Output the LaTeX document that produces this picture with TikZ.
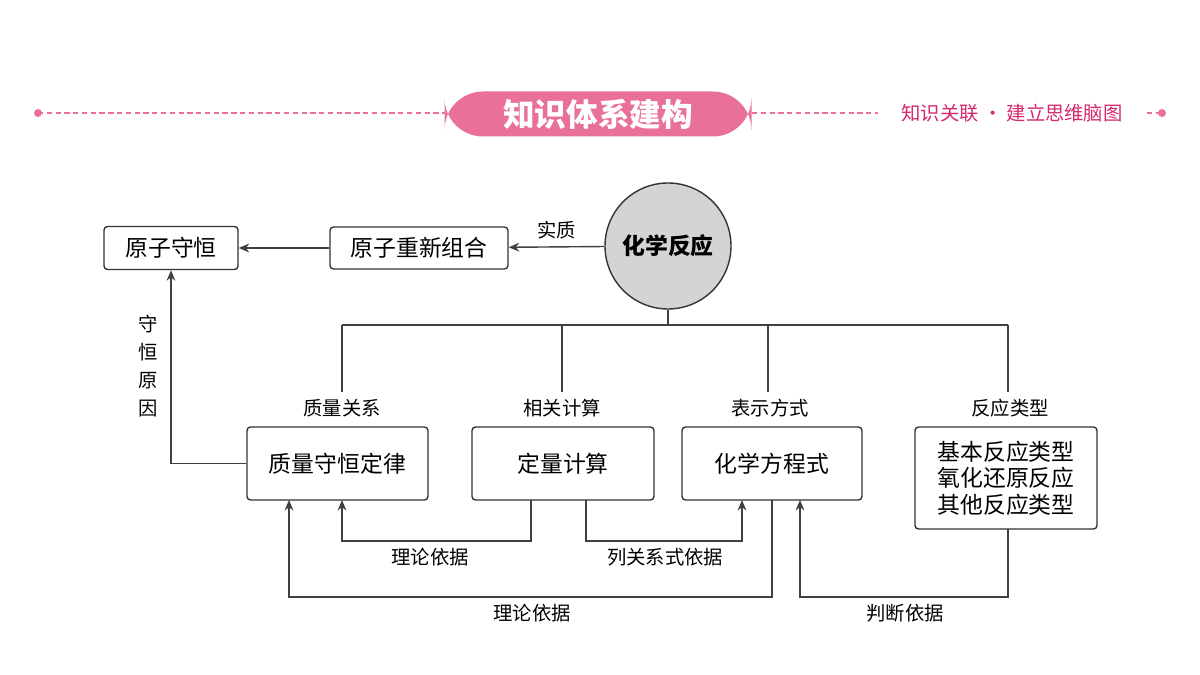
\documentclass[tikz,border=0pt]{standalone}
\usepackage{fontspec}
\setmainfont{Noto Sans CJK SC}
\usetikzlibrary{arrows.meta}
\definecolor{pk}{HTML}{E8709A}
\definecolor{pkt}{HTML}{D4286E}
\begin{document}
\begin{tikzpicture}[x=0.02cm,y=-0.02cm,
 box/.style={draw=black!80,rounded corners=2pt,thick,font=\fontsize{13}{15}\selectfont,align=center,inner sep=0pt},
 lab/.style={font=\fontsize{11}{13}\selectfont},
 arr/.style={draw=black!75,thick,-{Stealth[length=6pt,width=5pt]}},
 ln/.style={draw=black!75,thick}]
\useasboundingbox (0,0) rectangle (1200,675);
% header
\draw[pk,densely dashed,thick] (38,113) -- (445,113);
\draw[pk,densely dashed,thick] (752,113) -- (878,113);
\draw[pk,densely dashed,thick] (1147,113) -- (1162,113);
\fill[pk] (38,113) circle (4);
\fill[pk] (1162,113) circle (4);
\node[fill=pk,rounded corners=22pt,minimum width=307*0.02cm,minimum height=45*0.02cm,text=white,font=\fontsize{18}{20}\selectfont\bfseries] (hdr) at (598,114) {知识体系建构};
\node[text=pkt,font=\fontsize{11}{13}\selectfont] (sub) at (1012,113) {知识关联 · 建立思维脑图};
% nodes
\node[circle,draw=black!80,thick,fill=black!17,minimum size=126*0.02cm,font=\fontsize{13}{15}\selectfont\bfseries] (c) at (668,246) {化学反应};
\node[box,minimum width=134*0.02cm,minimum height=43*0.02cm] (a) at (171,248) {原子守恒};
\node[box,minimum width=178*0.02cm,minimum height=42*0.02cm] (b) at (419,248) {原子重新组合};
\node[box,minimum width=181*0.02cm,minimum height=73*0.02cm] (m) at (337.5,463.5) {质量守恒定律};
\node[box,minimum width=182*0.02cm,minimum height=73*0.02cm] (q) at (563,463.5) {定量计算};
\node[box,minimum width=180*0.02cm,minimum height=73*0.02cm] (e) at (772,463.5) {化学方程式};
\node[box,minimum width=182*0.02cm,minimum height=102*0.02cm] (r) at (1006,478) {基本反应类型\\氧化还原反应\\其他反应类型};
% top arrows
\draw[arr] (c) -- (b) node[lab,midway,above=1pt] {实质};
\draw[arr] (b) -- (a);
% tree
\coordinate (t) at (668,325);
\draw[ln] (c.south) -- (t);
\draw[ln] (342,325) -- (1008,325);
\foreach \x in {342,562,768,1008} \draw[ln] (\x,325) -- (\x,392);
\node[lab] (l1) at (342,408) {质量关系};
\node[lab] (l2) at (562,408) {相关计算};
\node[lab] (l3) at (770,408) {表示方式};
\node[lab] (l4) at (1010,408) {反应类型};
% side
\draw[arr] (m.west) -| (a.south);
\node[lab,align=center,inner sep=0pt,font=\fontsize{11}{16}\selectfont] (sy) at (148,366) {守\\恒\\原\\因};
% bottom loops
\draw[arr] (531,500) -- (531,541) -- (342,541) -- (342,500);
\node[lab] (y1) at (430,557) {理论依据};
\draw[arr] (586,500) -- (586,541) -- (742,541) -- (742,500);
\node[lab] (y2) at (665,557) {列关系式依据};
\draw[arr] (772,500) -- (772,597) -- (289,597) -- (289,500);
\node[lab] (y3) at (532,613) {理论依据};
\draw[arr] (1008,529) -- (1008,597) -- (800,597) -- (800,500);
\node[lab] (y4) at (905,613) {判断依据};
\end{tikzpicture}
\end{document}
